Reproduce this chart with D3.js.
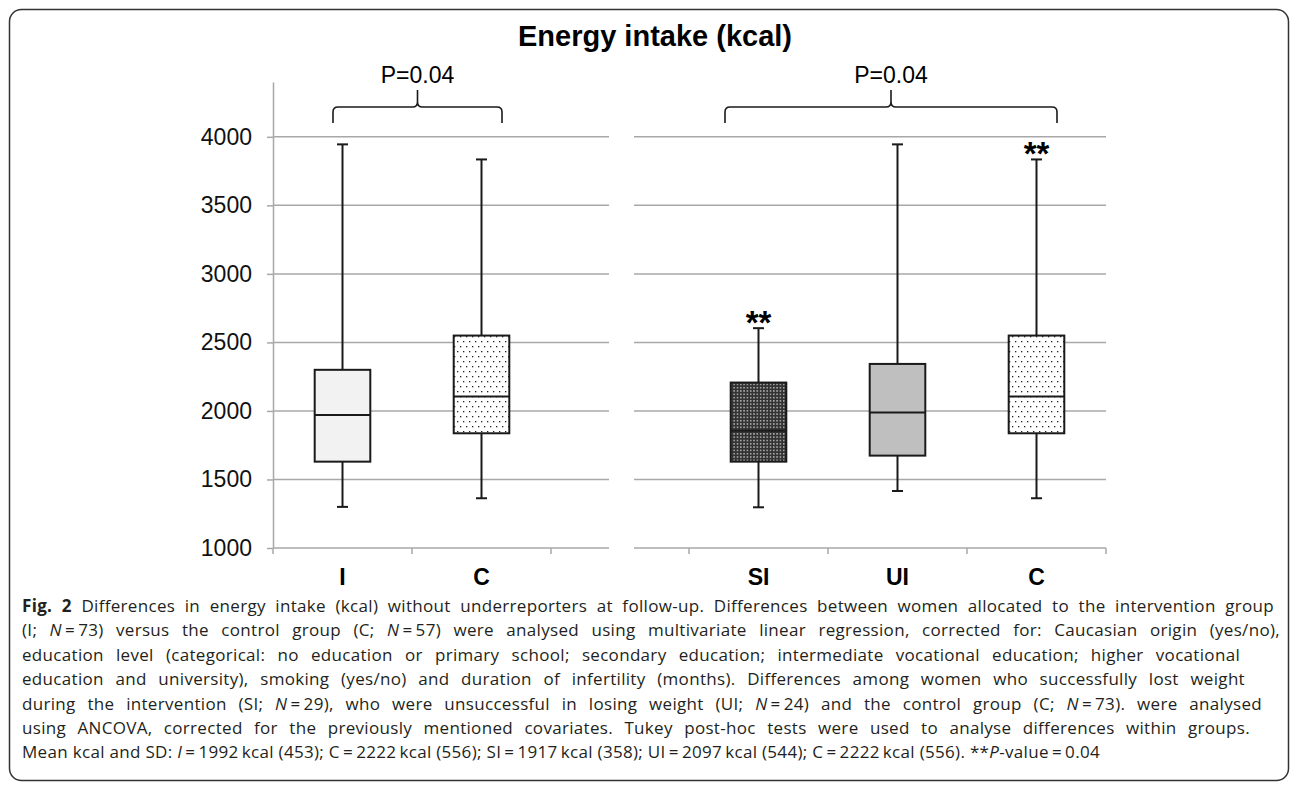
<!DOCTYPE html>
<html>
<head>
<meta charset="utf-8">
<script src="https://d3js.org/d3.v7.min.js"></script>
<style>
body { margin: 0; background: #fff; }
svg { display: block; }
text { white-space: pre; }
</style>
<title>Energy intake (kcal)</title>
</head>
<body>
<script>
// groups per panel
var leftGroups = ["I", "C"];
var rightGroups = ["SI", "UI", "C"];

// box stats (kcal): lower whisker, Q1, median, Q3, upper whisker
var leftLow = [1300, 1363],
    leftQ1 = [1630, 1837],
    leftMed = [1970, 2105],
    leftQ3 = [2300, 2550],
    leftHigh = [3945, 3835];

var rightLow = [1297, 1416, 1363],
    rightQ1 = [1630, 1674, 1837],
    rightMed = [1855, 1988, 2105],
    rightQ3 = [2207, 2343, 2550],
    rightHigh = [2604, 3945, 3835];

var leftFill = ["url(#light)", "url(#dots)"];
var rightFill = ["url(#dense)", "#bfbfbf", "url(#dots)"];
var rightStars = ["**", "", "**"];

var yTicks = [1000, 1500, 2000, 2500, 3000, 3500, 4000];
var pLabels = ["P=0.04", "P=0.04"];

var captionLines = [
  "#Fig. 2# Differences in energy intake (kcal) without underreporters at follow-up. Differences between women allocated to the intervention group",
  "(I; _N_\u2009=\u200973) versus the control group (C; _N_\u2009=\u200957) were analysed using multivariate linear regression, corrected for: Caucasian origin (yes/no),",
  "education level (categorical: no education or primary school; secondary education; intermediate vocational education; higher vocational",
  "education and university), smoking (yes/no) and duration of infertility (months). Differences among women who successfully lost weight",
  "during the intervention (SI; _N_\u2009=\u200929), who were unsuccessful in losing weight (UI; _N_\u2009=\u200924) and the control group (C; _N_\u2009=\u200973). were analysed",
  "using ANCOVA, corrected for the previously mentioned covariates. Tukey post-hoc tests were used to analyse differences within groups.",
  "Mean kcal and SD: _I_\u2009=\u20091992\u2009kcal (453); C\u2009=\u20092222\u2009kcal (556); SI\u2009=\u20091917\u2009kcal (358); UI\u2009=\u20092097\u2009kcal (544); C\u2009=\u20092222\u2009kcal (556). **_P_-value\u2009=\u20090.04"
];
var captionEnds = [1274, 1280, 1240, 1245, 1262, 1250, 1100];

var width = 1293, height = 789;
var gridColor = "#a8a8a8";
var font = "'Liberation Sans', Arial, sans-serif";

var svg = d3.select("body").append("svg")
    .attr("width", width)
    .attr("height", height);

var defs = svg.append("defs");

var light = defs.append("pattern").attr("id", "light")
    .attr("patternUnits", "userSpaceOnUse").attr("width", 4).attr("height", 4);
light.append("rect").attr("width", 4).attr("height", 4).attr("fill", "#f2f2f2");

var dots = defs.append("pattern").attr("id", "dots")
    .attr("patternUnits", "userSpaceOnUse").attr("width", 6).attr("height", 10);
dots.append("rect").attr("width", 6).attr("height", 10).attr("fill", "#fff");
dots.append("rect").attr("x", 1).attr("y", 1).attr("width", 1.3).attr("height", 1.3).attr("fill", "#222");
dots.append("rect").attr("x", 4).attr("y", 6).attr("width", 1.3).attr("height", 1.3).attr("fill", "#222");

var dense = defs.append("pattern").attr("id", "dense")
    .attr("patternUnits", "userSpaceOnUse").attr("width", 3.3).attr("height", 3.3);
dense.append("rect").attr("width", 3.3).attr("height", 3.3).attr("fill", "#333");
dense.append("rect").attr("x", 1).attr("y", 1).attr("width", 1.2).attr("height", 1.2).attr("fill", "#fff");

// frame
svg.append("rect")
    .attr("x", 9.5).attr("y", 9.5)
    .attr("width", 1279).attr("height", 771)
    .attr("rx", 12)
    .attr("fill", "none")
    .attr("stroke", "#333")
    .attr("stroke-width", 1.5);

var y = d3.scaleLinear().domain([1000, 4400]).range([548, 82]);

var leftX = d3.scaleBand().domain(leftGroups.concat(["pad"])).range([273, 690]);
var rightX = d3.scaleBand().domain(["pad"].concat(rightGroups)).range([550, 1106]);

var panels = [
  { x: leftX, groups: leftGroups, low: leftLow, q1: leftQ1, med: leftMed, q3: leftQ3, high: leftHigh,
    fill: leftFill, stars: ["", ""], x0: 273, x1: 609,
    ticks: [leftX("I"), leftX("C"), leftX("pad")] },
  { x: rightX, groups: rightGroups, low: rightLow, q1: rightQ1, med: rightMed, q3: rightQ3, high: rightHigh,
    fill: rightFill, stars: rightStars, x0: 634, x1: 1106,
    ticks: [rightX("SI"), rightX("UI"), rightX("C"), rightX("C") + rightX.bandwidth()] }
];

// title
svg.append("text")
    .attr("x", 655).attr("y", 46)
    .attr("text-anchor", "middle")
    .attr("font-family", font)
    .attr("font-weight", "bold")
    .attr("font-size", 29)
    .text("Energy intake (kcal)");

// y axis on the left panel
var yAxis = svg.append("g")
    .attr("transform", "translate(273,0)")
    .call(d3.axisLeft(y).tickValues(yTicks).tickSize(6).tickSizeOuter(0).tickPadding(15).tickFormat(d3.format("d")));
yAxis.selectAll("path, line").attr("stroke", gridColor).attr("stroke-width", 1.5);
yAxis.selectAll("text").attr("font-family", font).attr("font-size", 23).attr("fill", "#111");

panels.forEach(function(p, pi) {
  var g = svg.append("g");
  var bw = p.x.bandwidth();

  // gridlines (1000 is the category axis)
  g.selectAll(".grid").data(yTicks).enter().append("line")
      .attr("x1", p.x0).attr("x2", p.x1)
      .attr("y1", function(d) { return y(d); })
      .attr("y2", function(d) { return y(d); })
      .attr("stroke", gridColor).attr("stroke-width", 1.5);

  g.selectAll(".xtick").data(p.ticks).enter().append("line")
      .attr("x1", function(d) { return d; }).attr("x2", function(d) { return d; })
      .attr("y1", y(1000)).attr("y2", y(1000) + 6)
      .attr("stroke", gridColor).attr("stroke-width", 1.5);

  g.selectAll(".xlabel").data(p.groups).enter().append("text")
      .attr("x", function(d) { return p.x(d) + bw / 2; })
      .attr("y", 585)
      .attr("text-anchor", "middle")
      .attr("font-family", font).attr("font-weight", "bold").attr("font-size", 23)
      .text(function(d) { return d; });

  var rows = p.groups.map(function(d, i) {
    return { cx: p.x(d) + bw / 2, low: p.low[i], q1: p.q1[i], med: p.med[i], q3: p.q3[i], high: p.high[i],
             fill: p.fill[i], star: p.stars[i] };
  });

  var box = g.selectAll(".box").data(rows).enter().append("g");
  var boxW = bw * 0.4;

  box.append("line")
      .attr("x1", function(d) { return d.cx; }).attr("x2", function(d) { return d.cx; })
      .attr("y1", function(d) { return y(d.high); }).attr("y2", function(d) { return y(d.low); })
      .attr("stroke", "#1a1a1a").attr("stroke-width", 2);
  ["high", "low"].forEach(function(k) {
    box.append("line")
        .attr("x1", function(d) { return d.cx - 5.5; }).attr("x2", function(d) { return d.cx + 5.5; })
        .attr("y1", function(d) { return y(d[k]); }).attr("y2", function(d) { return y(d[k]); })
        .attr("stroke", "#1a1a1a").attr("stroke-width", 2);
  });
  box.append("rect")
      .attr("x", function(d) { return d.cx - boxW / 2; })
      .attr("y", function(d) { return y(d.q3); })
      .attr("width", boxW)
      .attr("height", function(d) { return y(d.q1) - y(d.q3); })
      .attr("fill", function(d) { return d.fill; })
      .attr("stroke", "#1a1a1a").attr("stroke-width", 2);
  box.append("line")
      .attr("x1", function(d) { return d.cx - boxW / 2; }).attr("x2", function(d) { return d.cx + boxW / 2; })
      .attr("y1", function(d) { return y(d.med); }).attr("y2", function(d) { return y(d.med); })
      .attr("stroke", "#1a1a1a").attr("stroke-width", 2);
  box.append("text")
      .attr("x", function(d) { return d.cx; })
      .attr("y", function(d) { return y(d.high) + 6; })
      .attr("text-anchor", "middle")
      .attr("font-family", font).attr("font-weight", "bold").attr("font-size", 33)
      .text(function(d) { return d.star; });
});

// significance braces
function brace(x0, x1) {
  var xm = (x0 + x1) / 2, yb = 107, ye = 123, yp = 90, r = 5;
  return "M" + x0 + "," + ye + "L" + x0 + "," + (yb + r) + "Q" + x0 + "," + yb + " " + (x0 + r) + "," + yb +
    "L" + (xm - r) + "," + yb + "Q" + xm + "," + yb + " " + xm + "," + (yb - r) + "L" + xm + "," + yp +
    "M" + xm + "," + (yb - r) + "Q" + xm + "," + yb + " " + (xm + r) + "," + yb +
    "L" + (x1 - r) + "," + yb + "Q" + x1 + "," + yb + " " + x1 + "," + (yb + r) + "L" + x1 + "," + ye;
}
var braces = [
  [leftX("I") + leftX.bandwidth() / 2 - 9.5, leftX("C") + leftX.bandwidth() / 2 + 20.5],
  [rightX("SI") + rightX.bandwidth() / 2 - 33.5, rightX("C") + rightX.bandwidth() / 2 + 20.5]
];
braces.forEach(function(b, i) {
  svg.append("path")
      .attr("d", brace(b[0], b[1]))
      .attr("fill", "none").attr("stroke", "#1a1a1a").attr("stroke-width", 1.6);
  svg.append("text")
      .attr("x", (b[0] + b[1]) / 2).attr("y", 83)
      .attr("text-anchor", "middle")
      .attr("font-family", font).attr("font-size", 23)
      .text(pLabels[i]);
});

// caption
var cap = svg.append("g")
    .attr("font-family", "'Open Sans', 'Noto Sans', sans-serif")
    .attr("font-size", 17)
    .attr("fill", "#231f20");

var capTexts = captionLines.map(function(line, i) {
  var t = cap.append("text").attr("x", 22).attr("y", 612 + i * 24.4);
  line.split(/(#[^#]+#|_[^_]+_)/).filter(Boolean).forEach(function(part) {
    var ts = t.append("tspan");
    if (part[0] === "#") ts.attr("font-weight", "bold").text(part.slice(1, -1));
    else if (part[0] === "_" && part.length > 2) ts.attr("font-style", "italic").text(part.slice(1, -1));
    else ts.text(part);
  });
  return t;
});

// stretch glyph spacing a little so the last line reaches its end, then justify the rest by word spacing
var last = capTexts[capTexts.length - 1];
var lastW = last.node().getComputedTextLength();
var ls = Math.max(0, Math.min(0.4, (captionEnds[captionEnds.length - 1] - 22 - lastW) / last.text().length));
cap.attr("letter-spacing", ls);

capTexts.forEach(function(t, i) {
  if (i === capTexts.length - 1) return;
  var w = t.node().getComputedTextLength();
  var spaces = (t.text().match(/ /g) || []).length;
  t.attr("word-spacing", (captionEnds[i] - 22 - w) / spaces);
});
</script>
</body>
</html>
